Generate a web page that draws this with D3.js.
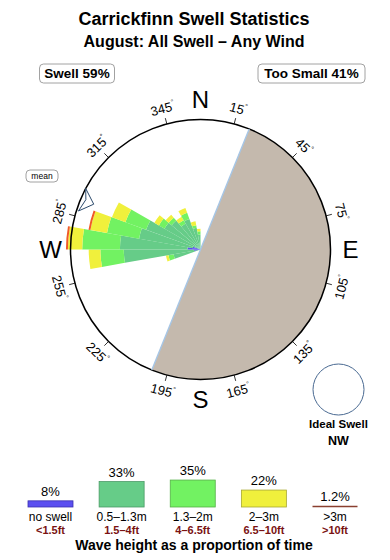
<!DOCTYPE html>
<html>
<head>
<meta charset="utf-8">
<script src="https://cdn.jsdelivr.net/npm/d3@7"></script>
<style>
  body { margin: 0; background: #fff; }
  svg { display: block; font-family: "Liberation Sans", Arial, sans-serif; }
</style>
</head>
<body>
<svg id="chart" width="390" height="560"></svg>
<script>
// Direction bins (start bearing, 10 degrees wide)
const binStart = [250, 260, 270, 280, 290, 300, 310, 320, 330, 340, 350]
// Radial share per wave class, in % of the rose radius
const noSwell = [0, 5, 10, 6, 1.5, 1, 0, 0, 0, 0, 0]
const small   = [21, 54, 52, 42, 43, 31, 29, 23, 25, 17, 11.5]
const medium  = [4, 18, 29, 25, 17, 5, 3, 3, 5, 2, 2.5]
const large   = [2, 9, 11, 13, 11, 4, 3, 3, 4, 3, 2]
const huge    = [0, 0, 1.5, 1.5, 0, 0, 0, 0, 0, 0, 0]

const classColors = ["#5b4ff0", "#66cc88", "#72f262", "#f0f03c", "#f05a28"]

// Legend
const legendNames = ["no swell", "0.5–1.3m", "1.3–2m", "2–3m", ">3m"]
const legendFeet = ["<1.5ft", "1.5–4ft", "4–6.5ft", "6.5–10ft", ">10ft"]
const legendPct = [8, 33, 35, 22, 1.2]
const legendStroke = ["#3a30b0", "#4a9a66", "#55b048", "#a8a830", "#8a4030"]

const degreeTicks = [15, 45, 75, 105, 135, 165, 195, 225, 255, 285, 315, 345]
const cardinals = [["N", 0], ["E", 90], ["S", 180], ["W", 270]]

const swellPct = 59
const tooSmallPct = 41
const blockedFrom = 22
const blockedTo = 202
const meanDir = 293

const svg = d3.select("#chart")
const cx = 200.5, cy = 249.5, R = 130
const rad = (deg) => deg * Math.PI / 180
const pt = (bearing, r) => [cx + r * Math.sin(rad(bearing)), cy - r * Math.cos(rad(bearing))]

// Titles
svg.append("text").attr("x", 194).attr("y", 25).attr("text-anchor", "middle")
  .attr("font-size", 18).attr("font-weight", "bold").text("Carrickfinn Swell Statistics")
svg.append("text").attr("x", 194).attr("y", 46.5).attr("text-anchor", "middle")
  .attr("font-size", 16).attr("font-weight", "bold").text("August: All Swell – Any Wind")

function pill(x, y, w, h, label, size, bold) {
  svg.append("rect").attr("x", x).attr("y", y).attr("width", w).attr("height", h)
    .attr("rx", 4).attr("fill", "#fff").attr("stroke", "#8a8a8a").attr("stroke-width", 0.8)
  svg.append("text").attr("x", x + w / 2).attr("y", y + h / 2).attr("dy", "0.36em")
    .attr("text-anchor", "middle").attr("font-size", size)
    .attr("font-weight", bold ? "bold" : "normal").text(label)
}
pill(39.5, 64, 75, 19, `Swell ${swellPct}%`, 13.5, true)
pill(258, 64, 107, 19, `Too Small ${tooSmallPct}%`, 13.5, true)

const g = svg.append("g").attr("transform", `translate(${cx},${cy})`)

// Blocked (too small) sector
g.append("path")
  .attr("d", d3.arc()({ innerRadius: 0, outerRadius: R, startAngle: rad(blockedFrom), endAngle: rad(blockedTo) }))
  .attr("fill", "#c4b9ad")
const [bx1, by1] = pt(blockedFrom, R), [bx2, by2] = pt(blockedTo, R)
svg.append("line").attr("x1", bx1).attr("y1", by1).attr("x2", bx2).attr("y2", by2)
  .attr("stroke", "#a6c6e6").attr("stroke-width", 1.4)

// Rose wedges
const rScale = d3.scaleLinear().domain([0, 100]).range([0, R])
const classes = [noSwell, small, medium, large, huge]
const arc = d3.arc()
binStart.forEach((b, i) => {
  let acc = 0
  classes.forEach((vals, c) => {
    const v = vals[i]
    if (!v) return
    g.append("path")
      .attr("d", arc({ innerRadius: rScale(acc), outerRadius: rScale(acc + v), startAngle: rad(b), endAngle: rad(b + 10) }))
      .attr("fill", classColors[c])
    acc += v
  })
})

// Compass circle
g.append("circle").attr("r", R).attr("fill", "none").attr("stroke", "#000").attr("stroke-width", 1.5)

// Degree ticks and labels
degreeTicks.forEach((d) => {
  const [x1, y1] = pt(d, R), [x2, y2] = pt(d, R + 6)
  svg.append("line").attr("x1", x1).attr("y1", y1).attr("x2", x2).attr("y2", y2)
    .attr("stroke", "#000").attr("stroke-width", 0.8)
  const [lx, ly] = pt(d, R + 16)
  const rot = (d > 90 && d < 270) ? d - 180 : (d >= 270 ? d - 360 : d)
  const t = svg.append("text").attr("transform", `translate(${lx},${ly}) rotate(${rot})`)
    .attr("text-anchor", "middle").attr("dy", "0.36em").attr("font-size", 13)
  t.append("tspan").text(d)
  t.append("tspan").attr("font-size", 7).attr("dy", "-0.9em").text("°")
})

// Cardinal letters
cardinals.forEach(([l, d]) => {
  const [x, y] = pt(d, 150)
  svg.append("text").attr("x", x).attr("y", y).attr("dy", "0.36em")
    .attr("text-anchor", "middle").attr("font-size", 24).text(l)
})

// Mean direction marker
const meanShape = [[116, 0], [130, 5], [125, 0.5], [128, -5.5], [116, 0]]
  .map(([r, off]) => pt(meanDir + off, r))
svg.append("path").attr("d", d3.line()(meanShape))
  .attr("fill", "#fff").attr("stroke", "#2c4a6c").attr("stroke-width", 1)
pill(26, 170, 32, 12, "mean", 8.5, false)

// Ideal swell
svg.append("circle").attr("cx", 338.5).attr("cy", 389.5).attr("r", 25.5)
  .attr("fill", "none").attr("stroke", "#4a6a92").attr("stroke-width", 1)
svg.append("text").attr("x", 338.5).attr("y", 428).attr("text-anchor", "middle")
  .attr("font-size", 11.5).attr("font-weight", "bold").text("Ideal Swell")
svg.append("text").attr("x", 338.5).attr("y", 445).attr("text-anchor", "middle")
  .attr("font-size", 12.5).attr("font-weight", "bold").text("NW")

// Legend bars
const lx = d3.scalePoint().domain(legendNames).range([50.5, 335])
const lh = d3.scaleLinear().domain([0, 100]).range([0, 77])
const base = 507, bw = 45
legendNames.forEach((n, i) => {
  const x = lx(n)
  const h = lh(legendPct[i])
  if (i === 4) {
    svg.append("line").attr("x1", x - bw / 2).attr("x2", x + bw / 2)
      .attr("y1", base - h / 2).attr("y2", base - h / 2)
      .attr("stroke", legendStroke[i]).attr("stroke-width", 1.6)
  } else {
    svg.append("rect").attr("x", x - bw / 2).attr("y", base - h).attr("width", bw).attr("height", h)
      .attr("fill", classColors[i]).attr("stroke", legendStroke[i]).attr("stroke-width", 0.8)
  }
  svg.append("text").attr("x", x).attr("y", base - h - 5).attr("text-anchor", "middle")
    .attr("font-size", 13).text(`${legendPct[i]}%`)
  svg.append("text").attr("x", x).attr("y", 520.5).attr("text-anchor", "middle")
    .attr("font-size", 12).text(n)
  svg.append("text").attr("x", x).attr("y", 534).attr("text-anchor", "middle")
    .attr("font-size", 11).attr("font-weight", "bold").attr("fill", "#7a1212").text(legendFeet[i])
})
svg.append("text").attr("x", 194).attr("y", 550).attr("text-anchor", "middle")
  .attr("font-size", 14).attr("font-weight", "bold").text("Wave height as a proportion of time")
</script>
</body>
</html>
